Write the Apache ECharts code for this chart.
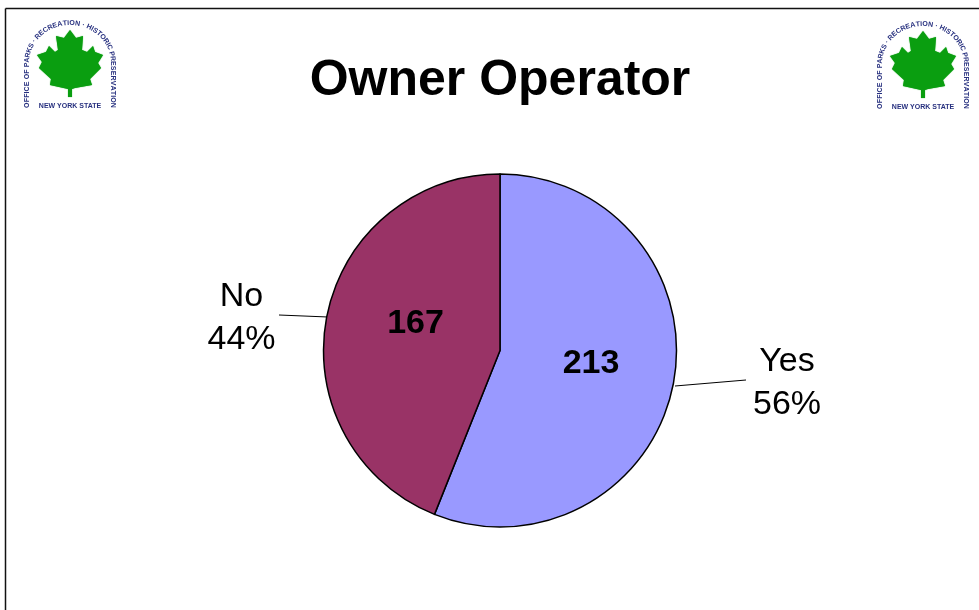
<!DOCTYPE html>
<html>
<head>
<meta charset="utf-8">
<style>
  html, body { margin: 0; padding: 0; background: #fff; }
  #chart { width: 979px; height: 610px; }
</style>
<script src="https://cdn.jsdelivr.net/npm/echarts@6/dist/echarts.min.js"></script>
</head>
<body>
<div id="chart"></div>
<script>
const categories = ['Yes', 'No']
const counts = [213, 167]
const sliceColors = ['#9999ff', '#993366']
const titleText = 'Owner Operator'
const logoArcText = 'OFFICE OF PARKS · RECREATION · HISTORIC PRESERVATION'
const logoBottomText = 'NEW YORK STATE'

const FONT = '"Liberation Sans", Arial, sans-serif'
const LOGO_BLUE = '#27307f'
const LOGO_FONT = 'bold 7px ' + FONT

// leaf outline, relative to the top-left logo
const leafPoints = [
  [70, 30], [76, 38], [83, 36], [82, 50], [87, 52], [93, 46], [95, 52], [103, 55],
  [98, 63], [101, 68], [90, 79], [92, 85], [75, 88], [72, 89], [72, 97], [68, 97],
  [68, 89], [50, 85], [51, 79], [39, 68], [42, 62], [37, 55], [46, 52], [49, 46],
  [55, 52], [58, 50], [56, 36], [64, 38]
]

// point on the arch (straight sides + half ellipse) at distance t in 0..1
function archPoint(t) {
  const cx = 70, cy = 63, rx = 43, ry = 40, side = 45
  const arc = Math.PI * Math.sqrt((rx * rx + ry * ry) / 2)
  const total = side * 2 + arc
  const d = t * total
  if (d < side) return { x: cx - rx, y: cy + side - d, rot: Math.PI / 2 }
  if (d > side + arc) return { x: cx + rx, y: cy + (d - side - arc), rot: -Math.PI / 2 }
  const a = Math.PI - ((d - side) / arc) * Math.PI
  return {
    x: cx + rx * Math.cos(a),
    y: cy - ry * Math.sin(a),
    rot: -Math.atan2(ry * Math.cos(a), rx * Math.sin(a))
  }
}

function logo(dx, dy) {
  const parts = [{
    type: 'polygon',
    shape: { points: leafPoints.map(p => [p[0] + dx, p[1] + dy]) },
    style: { fill: '#0a9e10', shadowColor: '#0a9e10', shadowBlur: 1 }
  }]
  // spread the letters by their real widths
  const ctx = document.createElement('canvas').getContext('2d')
  ctx.font = LOGO_FONT
  const chars = logoArcText.split('')
  const widths = chars.map(c => ctx.measureText(c).width)
  const sum = widths.reduce((a, b) => a + b, 0)
  let run = 0
  chars.forEach((c, i) => {
    const p = archPoint((run + widths[i] / 2) / sum)
    run += widths[i]
    parts.push({
      type: 'text',
      x: p.x + dx,
      y: p.y + dy,
      rotation: p.rot,
      style: {
        text: c, fill: LOGO_BLUE, font: LOGO_FONT,
        textAlign: 'center', textVerticalAlign: 'middle',
        shadowColor: LOGO_BLUE, shadowBlur: 1
      }
    })
  })
  parts.push({
    type: 'text',
    x: 70 + dx,
    y: 106 + dy,
    style: {
      text: logoBottomText, fill: LOGO_BLUE, font: 'bold 7px ' + FONT,
      textAlign: 'center', textVerticalAlign: 'middle',
      shadowColor: LOGO_BLUE, shadowBlur: 1
    }
  })
  return parts
}

const pieData = categories.map((name, i) => ({
  name,
  value: counts[i],
  itemStyle: { color: sliceColors[i] }
}))

// where the labels sit in the picture
const outerLabels = {
  Yes: { x: 787, y: 383.5, line: [[675, 386], [746, 380], [746, 380]] },
  No: { x: 241.5, y: 318, line: [[328, 317], [279, 315], [279, 315]] }
}
const innerLabels = {
  Yes: { x: 591, y: 364 },
  No: { x: 415.5, y: 324 }
}

const chart = echarts.init(document.getElementById('chart'), null, { renderer: 'canvas' })
chart.setOption({
  animation: false,
  backgroundColor: '#fff',
  title: {
    text: titleText,
    left: 495,
    top: 49,
    textAlign: 'center',
    textStyle: { fontFamily: FONT, fontWeight: 'bold', fontSize: 50, color: '#000', lineHeight: 54 }
  },
  graphic: [
    { type: 'line', shape: { x1: 5.5, y1: 8.5, x2: 979, y2: 8.5 }, style: { stroke: '#111', lineWidth: 1.5 } },
    { type: 'line', shape: { x1: 5.5, y1: 8.5, x2: 5.5, y2: 610 }, style: { stroke: '#111', lineWidth: 1.5 } },
    ...logo(0, 0),
    ...logo(853, 1)
  ],
  series: [
    {
      type: 'pie',
      center: [500, 350.5],
      radius: [0, 176.5],
      startAngle: 90,
      clockwise: true,
      silent: true,
      data: pieData,
      itemStyle: { borderColor: '#000', borderWidth: 1.5 },
      label: {
        show: true,
        formatter: p => `${p.name}\n${Math.round(p.percent)}%`,
        fontFamily: FONT,
        fontSize: 34,
        lineHeight: 43,
        color: '#000',
        align: 'center'
      },
      labelLine: { show: true, length: 20, length2: 20, lineStyle: { color: '#000', width: 1 } },
      labelLayout: p => {
        const l = outerLabels[p.text.split('\n')[0]]
        return { x: l.x, y: l.y, align: 'center', verticalAlign: 'middle', labelLinePoints: l.line }
      }
    },
    {
      type: 'pie',
      center: [500, 350.5],
      radius: [0, 176.5],
      startAngle: 90,
      clockwise: true,
      silent: true,
      data: pieData.map(d => ({ ...d, itemStyle: { color: 'transparent', borderWidth: 0 } })),
      label: {
        show: true,
        position: 'inside',
        formatter: p => `${p.value}`,
        fontFamily: FONT,
        fontWeight: 'bold',
        fontSize: 34,
        color: '#000'
      },
      labelLine: { show: false },
      labelLayout: p => {
        const l = innerLabels[categories[counts.indexOf(Number(p.text))]]
        return { x: l.x, y: l.y, align: 'center', verticalAlign: 'middle' }
      }
    }
  ]
})
</script>
</body>
</html>
